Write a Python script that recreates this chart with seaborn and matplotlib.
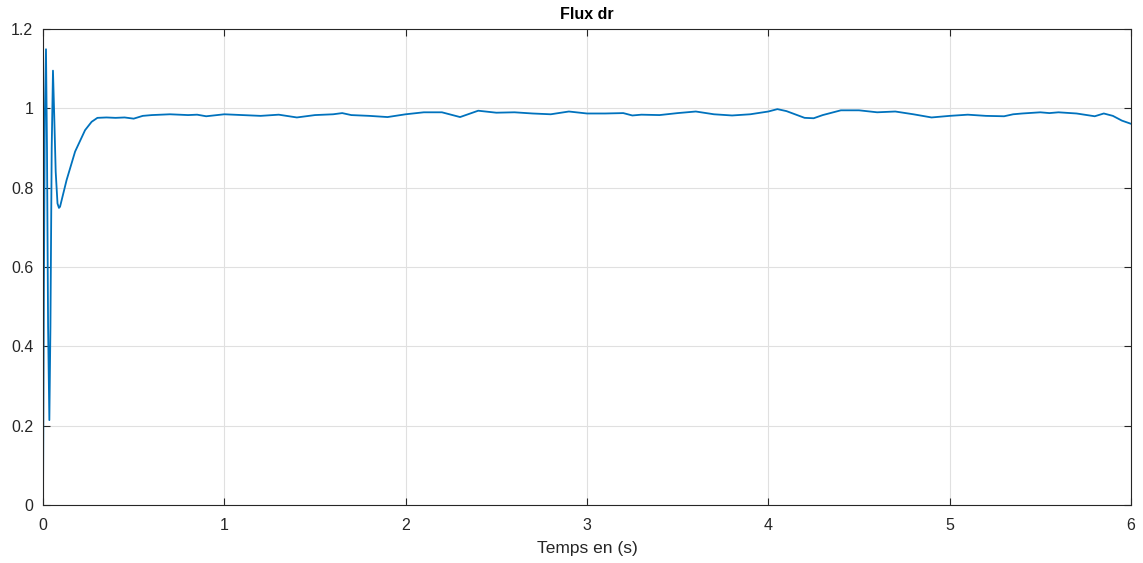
import matplotlib
matplotlib.use("Agg")
import matplotlib.pyplot as plt
import seaborn as sns
import pandas as pd

# Time (s) and flux values
time_s = [0.0, 0.005, 0.010, 0.0165, 0.022, 0.028, 0.035, 0.041, 0.048, 0.055, 0.062, 0.070,
          0.080, 0.088, 0.094, 0.13, 0.177, 0.232, 0.268, 0.30, 0.35, 0.40, 0.45, 0.50,
          0.55, 0.60, 0.70, 0.80, 0.85, 0.90, 1.0, 1.1, 1.2, 1.3, 1.4, 1.5, 1.6, 1.65,
          1.7, 1.8, 1.9, 2.0, 2.1, 2.2, 2.3, 2.4, 2.5, 2.6, 2.7, 2.8, 2.9, 3.0, 3.1,
          3.2, 3.25, 3.3, 3.4, 3.5, 3.6, 3.7, 3.8, 3.9, 4.0, 4.05, 4.1, 4.2, 4.25, 4.3,
          4.4, 4.5, 4.6, 4.7, 4.8, 4.9, 5.0, 5.1, 5.2, 5.3, 5.35, 5.4, 5.5, 5.55, 5.6,
          5.7, 5.8, 5.85, 5.9, 5.95, 6.0]
flux_dr = [0.0, 0.55, 0.98, 1.149, 0.90, 0.45, 0.214, 0.45, 0.90, 1.095, 0.98, 0.84,
           0.76, 0.749, 0.752, 0.819, 0.891, 0.945, 0.966, 0.976, 0.977, 0.976, 0.977, 0.974,
           0.981, 0.983, 0.985, 0.983, 0.984, 0.980, 0.985, 0.983, 0.981, 0.984, 0.977, 0.983, 0.985, 0.988,
           0.983, 0.981, 0.978, 0.985, 0.990, 0.990, 0.978, 0.994, 0.989, 0.990, 0.987, 0.985, 0.992, 0.987, 0.987,
           0.988, 0.982, 0.984, 0.983, 0.988, 0.992, 0.985, 0.982, 0.985, 0.992, 0.998, 0.993, 0.976, 0.975, 0.983,
           0.995, 0.995, 0.990, 0.992, 0.985, 0.977, 0.981, 0.984, 0.981, 0.980, 0.985, 0.987, 0.990, 0.988, 0.990,
           0.987, 0.980, 0.987, 0.981, 0.969, 0.961]

x_ticks = [0, 1, 2, 3, 4, 5, 6]
y_ticks = [0, 0.2, 0.4, 0.6, 0.8, 1.0, 1.2]
y_tick_labels = ["0", "0.2", "0.4", "0.6", "0.8", "1", "1.2"]

sns.set_theme(style="ticks")
plt.rcParams["font.family"] = ["Liberation Sans", "DejaVu Sans"]

df = pd.DataFrame({"t": time_s, "flux": flux_dr})

fig = plt.figure(figsize=(11.43, 5.63), dpi=100)
ax = fig.add_axes([43 / 1143, 58 / 563, (1131 - 43) / 1143, (505 - 29) / 563])

sns.lineplot(data=df, x="t", y="flux", ax=ax, color="#0072BD", linewidth=1.3,
             estimator=None, sort=False)

ax.set_xlim(0, 6)
ax.set_ylim(0, 1.2)
ax.set_xticks(x_ticks)
ax.set_yticks(y_ticks)
ax.set_yticklabels(y_tick_labels)
ax.grid(True, color="#e0e0e0", linewidth=0.8)
ax.set_axisbelow(True)
for s in ax.spines.values():
    s.set_color("#262626")
    s.set_linewidth(0.8)
ax.tick_params(direction="in", length=5, width=0.8, colors="#262626", labelsize=11.5,
               top=True, right=True)
ax.tick_params(axis="x", pad=9)
ax.tick_params(axis="y", pad=7)
ax.set_xlabel("Temps en (s)", fontsize=12.5, color="#262626", labelpad=6)
ax.set_ylabel("")
ax.set_title("Flux dr", fontsize=11.5, fontweight="bold", color="#000000", pad=7)

fig.savefig("out.png", dpi=100)
